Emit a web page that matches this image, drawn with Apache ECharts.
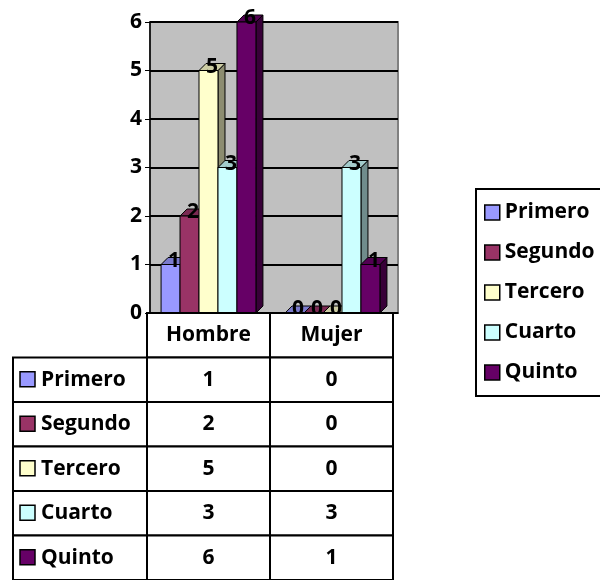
<!DOCTYPE html>
<html>
<head>
<meta charset="utf-8">
<script src="https://cdn.jsdelivr.net/npm/echarts@6/dist/echarts.min.js"></script>
<style>
html,body{margin:0;padding:0;background:#fff;}
#main{width:600px;height:580px;}
</style>
</head>
<body>
<div id="main"></div>
<script>
var categories = ['Hombre', 'Mujer'];
var seriesNames = ['Primero', 'Segundo', 'Tercero', 'Cuarto', 'Quinto'];
var primero = [1, 0];
var segundo = [2, 0];
var tercero = [5, 0];
var cuarto = [3, 3];
var quinto = [6, 1];
var allValues = [primero, segundo, tercero, cuarto, quinto];
var colors = ['#9999FF', '#993366', '#FFFFCC', '#CCFFFF', '#660066'];

var FONT = '"Open Sans"';
var FS = 21;
var DEPTH = 7;

function shade(hex, k) {
	var n = parseInt(hex.slice(1), 16);
	var r = Math.round(((n >> 16) & 255) * k);
	var g = Math.round(((n >> 8) & 255) * k);
	var b = Math.round((n & 255) * k);
	return 'rgb(' + r + ',' + g + ',' + b + ')';
}

// 3d looking column, one per series
function barItem(s) {
	return function (params, api) {
		var ci = api.value(0), v = api.value(1);
		var band = api.size([1, 0])[0];
		var bw = band * 0.153;
		var base = api.coord([ci, 0]);
		var top = api.coord([ci, v]);
		var x0 = base[0] - (5 * bw + DEPTH) / 2 + s * bw;
		var x1 = x0 + bw;
		var yb = base[1], yt = top[1];
		var d = DEPTH;
		var line = { stroke: '#000', lineWidth: 1 };
		return {
			type: 'group',
			children: [
				{ type: 'polygon', shape: { points: [[x1, yb], [x1 + d, yb - d], [x1 + d, yt - d], [x1, yt]] },
					style: Object.assign({ fill: shade(colors[s], 0.55) }, line) },
				{ type: 'polygon', shape: { points: [[x0, yt], [x0 + d, yt - d], [x1 + d, yt - d], [x1, yt]] },
					style: Object.assign({ fill: shade(colors[s], 0.8) }, line) },
				{ type: 'rect', shape: { x: x0, y: yt, width: bw, height: yb - yt },
					style: Object.assign({ fill: colors[s] }, line) },
				{ type: 'text', x: x0 + bw / 2 + d / 2, y: yt - d / 2,
					style: { text: String(v), fill: '#000', font: 'bold ' + FS + 'px ' + FONT, align: 'center', verticalAlign: 'middle' } }
			]
		};
	};
}

var series = [];
seriesNames.forEach(function (name, s) {
	series.push({
		name: name,
		type: 'custom',
		xAxisIndex: 0,
		yAxisIndex: 0,
		clip: false,
		itemStyle: { color: colors[s], borderColor: '#000', borderWidth: 1.5 },
		renderItem: barItem(s),
		data: categories.map(function (c, i) { return [i, allValues[s][i]]; })
	});
});

// data table cells
var tableData = [];
for (var r = 0; r <= seriesNames.length; r++) {
	for (var c = 0; c < categories.length; c++) tableData.push([c, r]);
}
series.push({
	type: 'custom',
	xAxisIndex: 1,
	yAxisIndex: 1,
	clip: false,
	silent: true,
	renderItem: function (params, api) {
		var c = api.value(0), r = api.value(1);
		var p = api.coord([c, r]);
		var w = api.size([1, 0])[0], h = api.size([0, 1])[1];
		var txt = r === 0 ? categories[c] : String(allValues[r - 1][c]);
		return {
			type: 'group',
			children: [
				{ type: 'rect', shape: { x: p[0] - w / 2, y: p[1] - h / 2, width: w, height: h },
					style: { fill: '#fff', stroke: '#000', lineWidth: 2 } },
				{ type: 'text', x: p[0], y: p[1],
					style: { text: txt, fill: '#000', font: 'bold ' + FS + 'px ' + FONT, align: 'center', verticalAlign: 'middle' } }
			]
		};
	},
	data: tableData
});

// row labels of the table
var LABEL_W = 134;
series.push({
	type: 'custom',
	xAxisIndex: 1,
	yAxisIndex: 1,
	clip: false,
	silent: true,
	renderItem: function (params, api) {
		var r = api.value(1);
		var p = api.coord([0, r]);
		var w = api.size([1, 0])[0], h = api.size([0, 1])[1];
		var left = p[0] - w / 2 - LABEL_W;
		return {
			type: 'group',
			children: [
				{ type: 'rect', shape: { x: left, y: p[1] - h / 2, width: LABEL_W, height: h },
					style: { fill: '#fff', stroke: '#000', lineWidth: 2 } },
				{ type: 'rect', shape: { x: left + 7, y: p[1] - 8, width: 15, height: 15 },
					style: { fill: colors[r - 1], stroke: '#000', lineWidth: 1.5 } },
				{ type: 'text', x: left + 28, y: p[1],
					style: { text: seriesNames[r - 1], fill: '#000', font: 'bold ' + FS + 'px ' + FONT, align: 'left', verticalAlign: 'middle' } }
			]
		};
	},
	data: seriesNames.map(function (n, i) { return [0, i + 1]; })
});

var tableRows = [''].concat(seriesNames);

var chart = echarts.init(document.getElementById('main'));
chart.setOption({
	animation: false,
	backgroundColor: '#fff',
	textStyle: { fontFamily: FONT },
	legend: {
		orient: 'vertical',
		left: 476,
		top: 189,
		data: seriesNames,
		icon: 'rect',
		itemWidth: 15,
		itemHeight: 15,
		itemGap: 19,
		padding: [13, 40, 13, 8],
		borderColor: '#000',
		borderWidth: 2,
		itemStyle: { borderColor: '#000', borderWidth: 1.5 },
		textStyle: { fontFamily: FONT, fontWeight: 'bold', fontSize: FS, color: '#000' }
	},
	grid: [
		{ left: 150, width: 248, top: 22, height: 291, show: true, backgroundColor: '#C0C0C0', borderColor: '#808080', borderWidth: 2 },
		{ left: 147, width: 246, top: 313, height: 267 }
	],
	xAxis: [
		{ type: 'category', gridIndex: 0, data: categories,
			axisLine: { lineStyle: { color: '#000', width: 1.5 } },
			axisTick: { show: false }, axisLabel: { show: false } },
		{ type: 'category', gridIndex: 1, data: categories,
			axisLine: { show: false }, axisTick: { show: false }, axisLabel: { show: false } }
	],
	yAxis: [
		{ type: 'value', gridIndex: 0, min: 0, max: 6, interval: 1,
			axisLine: { show: true, lineStyle: { color: '#000', width: 1.5 } },
			axisTick: { show: true, length: 5, lineStyle: { color: '#000' } },
			axisLabel: { color: '#000', fontWeight: 'bold', fontSize: FS, fontFamily: FONT, margin: 8 },
			splitLine: { lineStyle: { color: '#000', width: 2 } } },
		{ type: 'category', gridIndex: 1, data: tableRows, inverse: true,
			axisLine: { show: false }, axisTick: { show: false }, axisLabel: { show: false } }
	],
	series: series
});
</script>
</body>
</html>
